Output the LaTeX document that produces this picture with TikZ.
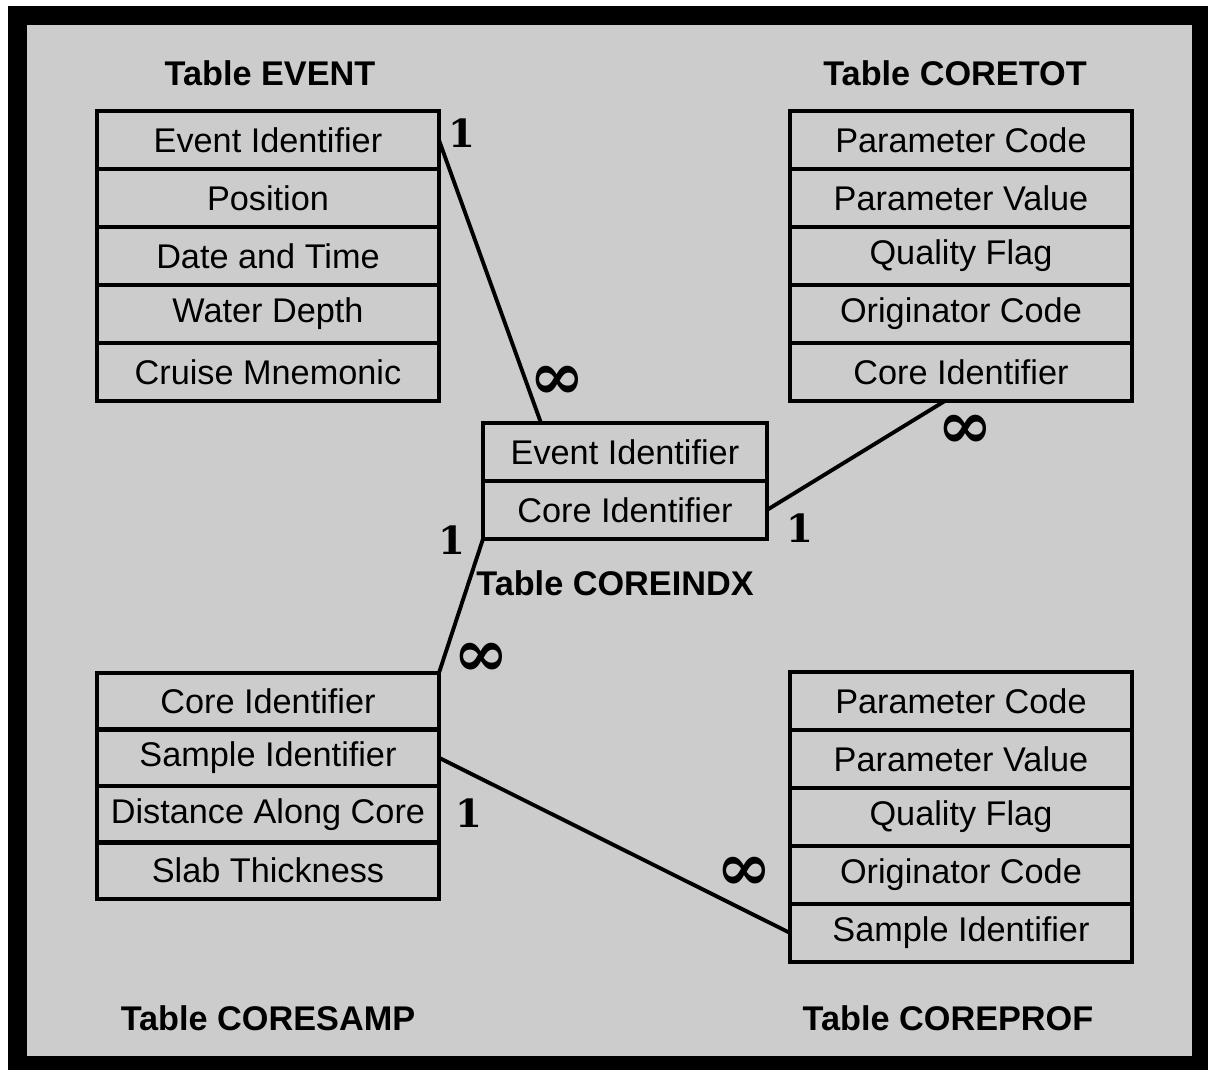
\documentclass[tikz,border=0pt]{standalone}
\usepackage{fontspec}
\setmainfont{Liberation Sans}
\newfontfamily\cardfont{DejaVu Serif}
\usepackage{tikz}
\usetikzlibrary{positioning,calc}
\definecolor{panelgrey}{RGB}{204,204,204}

\tikzset{
  field/.style={draw, line width=2.4pt, rectangle, minimum width=6.84cm, minimum height=1.16cm,
    inner sep=0pt, outer sep=0pt, font=\fontsize{19.5}{22}\selectfont},
  tabletitle/.style={font=\fontsize{19.5}{22}\selectfont\bfseries},
  card/.style={font=\cardfont\bfseries\fontsize{22}{24}\selectfont, inner sep=0pt},
  many/.style={font=\cardfont\bfseries\fontsize{38}{40}\selectfont, inner sep=0pt},
  link/.style={line width=2.2pt}
}

\begin{document}
\begin{tikzpicture}[x=0.02cm, y=-0.02cm]
        \useasboundingbox (0,0) rectangle (1208,1070);
        \fill[black] (8,6) rectangle (1208,1070);
        \fill[panelgrey] (27,25) rectangle (1192,1056);
        
        % Table EVENT
        \node[field, anchor=north west] (ev1) at (97,111) {Event Identifier};
        \node[field, below=0pt of ev1] (ev2) {Position};
        \node[field, below=0pt of ev2] (ev3) {Date and Time};
        \node[field, below=0pt of ev3] (ev4) {Water Depth};
        \node[field, below=0pt of ev4] (ev5) {Cruise Mnemonic};
        \node[tabletitle] (evt) at (270,73) {Table EVENT};
        
        % Table CORETOT
        \node[field, anchor=north west] (ct1) at (790,111) {Parameter Code};
        \node[field, below=0pt of ct1] (ct2) {Parameter Value};
        \node[field, below=0pt of ct2] (ct3) {Quality Flag};
        \node[field, below=0pt of ct3] (ct4) {Originator Code};
        \node[field, below=0pt of ct4] (ct5) {Core Identifier};
        \node[tabletitle] (ctt) at (955,73) {Table CORETOT};
        
        % Table COREINDX
        \node[field, minimum width=5.68cm, anchor=north west] (ci1) at (483,423) {Event Identifier};
        \node[field, minimum width=5.68cm, below=0pt of ci1] (ci2) {Core Identifier};
        \node[tabletitle] (cit) at (615,583) {Table COREINDX};
        
        % Table CORESAMP
        \node[field, minimum height=1.13cm, anchor=north west] (cs1) at (97,673) {Core Identifier};
        \node[field, minimum height=1.13cm, below=0pt of cs1] (cs2) {Sample Identifier};
        \node[field, minimum height=1.13cm, below=0pt of cs2] (cs3) {Distance Along Core};
        \node[field, minimum height=1.13cm, below=0pt of cs3] (cs4) {Slab Thickness};
        \node[tabletitle] (cst) at (268,1018) {Table CORESAMP};
        
        % Table COREPROF
        \node[field, anchor=north west] (cp1) at (790,672) {Parameter Code};
        \node[field, below=0pt of cp1] (cp2) {Parameter Value};
        \node[field, below=0pt of cp2] (cp3) {Quality Flag};
        \node[field, below=0pt of cp3] (cp4) {Originator Code};
        \node[field, below=0pt of cp4] (cp5) {Sample Identifier};
        \node[tabletitle] (cpt) at (948,1018) {Table COREPROF};
        
        % relations
        \draw[link] (ev1.east) -- ([xshift=1.16cm]ci1.north west);
        \draw[link] ([xshift=-0.32cm]ct5.south) -- (ci2.east);
        \draw[link] (ci2.south west) -- (cs1.north east);
        \draw[link] (cs2.east) -- (cp5.west);
        
        \node[card] (m1) at (462,133) {1};
        \node[many] (n1) at (557,383) {∞};
        \node[many] (n2) at (965,432) {∞};
        \node[card] (m2) at (800,528) {1};
        \node[card] (m3) at (452,540) {1};
        \node[many] (n3) at (481,660) {∞};
        \node[card] (m4) at (469,813) {1};
        \node[many] (n4) at (744,874) {∞};
    \end{tikzpicture}
\end{document}
